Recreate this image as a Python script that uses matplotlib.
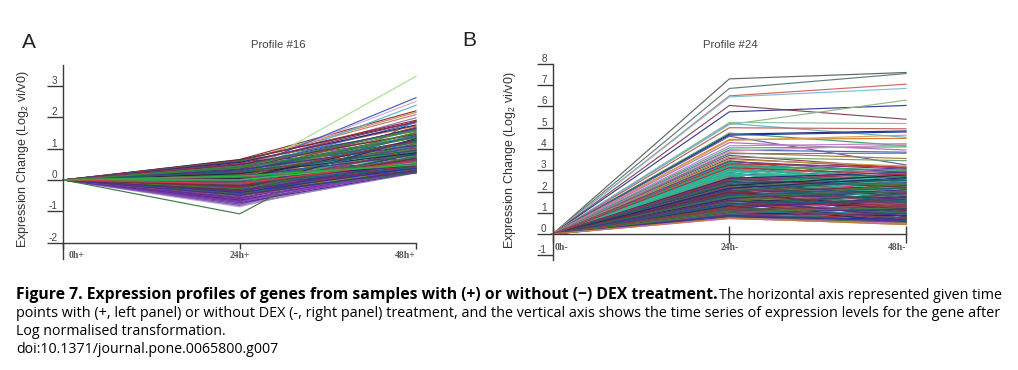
import matplotlib
matplotlib.use('Agg')
import matplotlib.pyplot as plt
from matplotlib.transforms import ScaledTranslation

W, H = 1018, 370

# ---------- data ----------
labels_a = ['0h+', '24h+', '48h+']
labels_b = ['0h-', '24h-', '48h-']
yticks_a = [-2, -1, 0, 1, 2, 3]
yticks_b = [-1, 0, 1, 2, 3, 4, 5, 6, 7, 8]
start_value = 0.0

palette = ['#8a2f3c', '#2f7f5f', '#4a3fa0', '#c8603a', '#3a9ab0', '#7f3f9f', '#5f9f3f', '#2a3f8f',
           '#c04a6a', '#1f8f8f', '#9a7a2f', '#6a2f8a', '#3f6fc0', '#a03030', '#40a860', '#8f5fb0',
           '#b08a4a', '#205070', '#d07090', '#4f8a4f', '#6f6fc0', '#303060', '#20a090', '#905040']
dark_palette = ['#2a2a70', '#7a2a3a', '#2f6f4f', '#5a2a80', '#1f5f7f', '#8f3f3f', '#3f7f3f', '#4a3090',
                '#203040', '#a04a60', '#306090', '#6a3a70', '#507030', '#3030a0', '#903060', '#206060']

# Panel A: bulk lines
a_24 = [0.62, 0.60, 0.58, 0.55, 0.52, 0.50, 0.48, 0.47, 0.45, 0.44, 0.42, 0.40, 0.39, 0.37, 0.36, 0.34,
        0.33, 0.31, 0.30, 0.28, 0.27, 0.25, 0.24, 0.22, 0.21, 0.19, 0.18, 0.16, 0.15, 0.13, 0.12, 0.10,
        0.09, 0.07, 0.06, 0.04, 0.03, 0.01, -0.01, -0.03, -0.05, -0.07, -0.09, -0.11, -0.13, -0.15, -0.17,
        -0.19, -0.21, -0.23, -0.25, -0.27, -0.29, -0.31, -0.33, -0.35, -0.37, -0.39, -0.41, -0.43, -0.45,
        -0.47, -0.49, -0.51]
a_48 = [1.90, 1.55, 0.95, 1.72, 0.55, 1.34, 0.82, 1.62, 0.40, 1.12, 1.48, 0.68, 1.82, 0.32, 1.05, 1.40,
        0.74, 1.25, 0.46, 1.58, 0.90, 0.28, 1.18, 1.68, 0.60, 1.36, 0.36, 0.98, 1.44, 0.52, 0.78, 1.22,
        0.26, 1.08, 1.52, 0.64, 0.42, 1.30, 0.86, 0.24, 1.15, 0.56, 0.34, 1.00, 0.72, 0.30, 1.28, 0.48,
        0.22, 0.92, 0.66, 0.38, 1.10, 0.58, 0.27, 0.84, 0.44, 0.76, 0.31, 0.62, 0.24, 0.50, 0.35, 0.29]
a_more_24 = [0.56, 0.49, 0.41, 0.35, 0.29, 0.23, 0.17, 0.11, 0.05, -0.02, -0.06, -0.10, -0.14, -0.18, -0.22,
             -0.26, -0.30, -0.34, -0.38, -0.42, -0.46, -0.50, 0.43, 0.32, 0.20, 0.08, -0.04, -0.16, -0.28,
             -0.40, 0.52, 0.26, 0.00, -0.20, -0.44, -0.36, -0.12, 0.14, 0.38, -0.48]
a_more_48 = [1.75, 1.45, 1.20, 1.65, 1.38, 1.02, 1.50, 0.80, 1.26, 0.66, 1.42, 0.50, 1.16, 0.36, 0.96, 0.70,
             1.32, 0.44, 0.88, 0.25, 0.60, 0.33, 1.60, 1.10, 0.86, 0.54, 1.06, 0.28, 0.74, 0.38, 1.85,
             0.94, 0.47, 0.68, 0.23, 0.56, 0.40, 1.24, 1.35, 0.30]

# Panel A: lower purple band
a_low_24 = [-0.53, -0.56, -0.58, -0.60, -0.62, -0.64, -0.66, -0.68, -0.70, -0.72, -0.74, -0.76, -0.78, -0.80,
            -0.82, -0.84, -0.86]
a_low_48 = [0.72, 0.30, 0.55, 0.25, 0.88, 0.40, 0.26, 0.64, 0.34, 0.24, 0.80, 0.46, 0.22, 0.58, 0.30, 0.42, 0.50]
low_colors = ['#5a2a90', '#7a2fa0', '#43308f', '#8a3fb0', '#6a2a80', '#4a2a9a', '#7f40a8', '#5f3098',
              '#8f4fb5', '#502f90', '#9a6fc0', '#7030a0', '#a080c8', '#6848a8', '#b090d0', '#c0a8d8', '#c8b8e0']

# Panel A: individually visible lines
a_top_24 = [0.65, 0.60, 0.58, 0.46, 0.35, 0.25, 0.30, 0.16, -1.08, 0.64, 0.00, -0.12, 0.12]
a_top_48 = [2.20, 2.15, 2.08, 1.98, 2.50, 2.38, 2.62, 3.30, 1.90, 1.85, 0.55, 0.60, 0.48]
a_top_colors = ['#8a3a3a', '#c09060', '#d07a60', '#a070c0', '#e0a8cc', '#5cb8d8', '#3f5fc8', '#a6e28f',
                '#3f7a4a', '#402a3a', '#2fbf4a', '#d03a4a', '#28b040']

# Panel B: bulk lines
b_24 = [3.55, 3.45, 3.40, 3.34, 3.28, 3.22, 3.16, 3.10, 3.05, 3.00, 2.95, 2.90, 2.85, 2.80, 2.76, 2.72,
        2.68, 2.64, 2.60, 2.55, 2.50, 2.46, 2.42, 2.38, 2.34, 2.30, 2.26, 2.22, 2.18, 2.14, 2.10, 2.06,
        2.02, 1.98, 1.94, 1.90, 1.86, 1.82, 1.78, 1.74, 1.70, 1.66, 1.62, 1.58, 1.54, 1.50, 1.46, 1.42,
        1.38, 1.34, 1.30, 1.26, 1.22, 1.18, 1.14, 1.10, 1.06, 1.02, 0.98, 0.94, 0.90, 0.86, 0.82, 0.78, 0.74]
b_48 = [3.10, 2.55, 3.05, 1.95, 2.85, 2.30, 3.00, 1.50, 2.62, 2.10, 2.95, 1.72, 2.45, 1.25, 2.75, 2.00,
        1.40, 2.50, 1.85, 2.68, 1.10, 2.25, 1.62, 2.40, 0.95, 2.15, 1.45, 2.58, 1.78, 0.80, 2.05, 1.30,
        2.35, 1.58, 0.70, 1.92, 2.20, 1.15, 1.68, 0.90, 1.42, 1.98, 0.62, 1.52, 1.20, 1.80, 0.75, 1.35,
        1.05, 1.65, 0.58, 1.48, 0.85, 1.28, 0.52, 1.12, 0.68, 1.00, 0.50, 0.88, 0.60, 0.78, 0.48, 0.55, 0.45]
b_more_24 = [2.62, 2.58, 2.52, 2.48, 2.44, 2.40, 2.36, 2.32, 2.28, 2.24, 2.20, 2.16, 2.12, 2.08, 2.04, 2.00,
             1.96, 1.92, 1.88, 1.84, 1.80, 1.76, 1.72, 1.68, 1.64, 1.60, 1.56, 1.52, 1.48, 1.44, 1.40, 1.36,
             1.32, 1.28, 1.24, 1.20, 1.16, 1.12, 1.08, 1.04, 1.00, 0.96, 0.92, 0.88, 0.84, 0.80,
             2.56, 2.34, 2.15, 1.97, 1.77, 1.59, 1.41, 1.21, 1.03, 0.87]
b_more_48 = [2.90, 2.20, 2.70, 1.75, 2.52, 1.35, 2.32, 1.88, 2.78, 1.08, 2.42, 1.60, 2.12, 0.82, 1.96, 2.60,
             1.22, 2.28, 0.98, 1.70, 2.18, 0.72, 1.54, 2.08, 1.18, 1.82, 0.92, 1.46, 2.38, 0.66, 1.38, 1.90,
             0.58, 1.62, 1.02, 1.72, 0.76, 1.32, 0.54, 1.16, 0.86, 1.44, 0.64, 0.96, 0.52, 0.70,
             2.82, 1.48, 2.65, 1.10, 2.00, 0.84, 1.56, 0.74, 1.24, 0.60]

# Panel B: individually visible lines
b_top_24 = [7.30, 6.85, 6.50, 6.45, 6.05, 5.75, 5.15, 5.25, 5.20, 5.00, 4.70, 4.75, 4.65, 4.45, 4.60, 4.40,
            4.30, 4.15, 4.05, 3.95, 3.90, 3.82, 3.78, 3.70, 3.62, 3.50, 3.42, 3.30, 3.22, 3.12, 0.72, 0.76]
b_top_48 = [7.60, 7.55, 7.05, 6.85, 5.40, 6.05, 6.30, 5.20, 4.55, 4.95, 4.85, 4.15, 4.80, 4.50, 3.25, 4.65,
            3.95, 4.25, 4.10, 3.85, 4.20, 3.55, 3.80, 3.10, 3.45, 3.20, 2.90, 3.15, 3.00, 2.80, 0.50, 0.44]
b_top_colors = ['#5a6a5a', '#5f7f78', '#d06a60', '#80c0d8', '#8a4a58', '#3a3f8f', '#90b888', '#90c0a0',
                '#70b0d0', '#c06060', '#2a2a6a', '#40a070', '#2040a0', '#d08030', '#6a5a9a', '#e0a050',
                '#b070c0', '#c080d0', '#40b060', '#5060b0', '#d090c0', '#a08040', '#6080c0', '#904060',
                '#70a070', '#c0a040', '#7040a0', '#c03030', '#2f9f7f', '#b03040', '#d070a8', '#c08040']
# Panel B: turquoise streak
b_teal_24 = [3.36, 3.30, 3.24, 3.18, 3.12, 3.06, 3.00, 2.94, 2.88, 2.82, 2.76]
b_teal_48 = [2.45, 2.20, 2.60, 1.90, 2.35, 1.70, 2.10, 2.50, 1.80, 2.25, 1.60]

caption_bold = "Figure 7. Expression profiles of genes from samples with (+) or without (\u2212) DEX treatment."
caption_tail = "The horizontal axis represented given time"
caption_l2 = ("points with (+, left panel) or without DEX (-, right panel) treatment, and the vertical axis "
              "shows the time series of expression levels for the gene after")
caption_l3 = "Log normalised transformation."
caption_l4 = "doi:10.1371/journal.pone.0065800.g007"

# ---------- drawing ----------
plt.rcParams['font.family'] = ['Liberation Sans', 'DejaVu Sans']
plt.rcParams['mathtext.default'] = 'regular'
fig = plt.figure(figsize=(W / 100, H / 100), dpi=100, facecolor='white')
PT = 0.72
GREY = '#3a3a3a'


def panel(px0, px2, pytop, pybot, ylim, axis_y, yticks, xlabels, tick_dir, tick_len, lab_pad, shift0):
    ax = fig.add_axes([px0 / W, 1 - pybot / H, (px2 - px0) / W, (pybot - pytop) / H])
    ax.set_xlim(0, 2)
    ax.set_ylim(*ylim)
    ax.patch.set_alpha(0)
    for s in ('top', 'right'):
        ax.spines[s].set_visible(False)
    ax.spines['bottom'].set_position(('data', axis_y))
    for s in ('left', 'bottom'):
        ax.spines[s].set_color(GREY)
        ax.spines[s].set_linewidth(1.0)
    ax.set_yticks(yticks)
    ax.set_yticklabels([str(v) for v in yticks], family='Liberation Sans', fontsize=7.2, color='#444444', va='bottom')
    ax.tick_params(axis='y', length=16 * PT, width=1.0, color=GREY, pad=-10 * PT)
    ax.set_xticks([0, 1, 2])
    ax.set_xticklabels(xlabels, family='Liberation Serif', fontsize=7.0, fontweight='bold', color='#555555')
    ax.tick_params(axis='x', length=tick_len * PT, width=1.0, color=GREY, direction=tick_dir, pad=lab_pad * PT)
    tl = ax.get_xticklabels()
    tl[0].set_ha('left')
    tl[0].set_transform(tl[0].get_transform() + ScaledTranslation(shift0 / 100, 0, fig.dpi_scale_trans))
    tl[2].set_ha('right')
    return ax


def draw(ax, v24, v48, colors, lw=0.85):
    for i, (p, q) in enumerate(zip(v24, v48)):
        ax.plot([0, 1, 2], [start_value, p, q], color=colors[i % len(colors)], lw=lw,
                solid_joinstyle='miter', clip_on=False, zorder=2)


ax_a = panel(63.3, 416, 65, 259.4, (-2.53, 3.66), -2, yticks_a, labels_a, 'out', 6, 2, 5.5)
draw(ax_a, a_low_24[::-1], a_low_48[::-1], low_colors[::-1])
draw(ax_a, a_top_24[:10], a_top_48[:10], a_top_colors[:10])
draw(ax_a, a_24, a_48, palette)
draw(ax_a, a_more_24, a_more_48, dark_palette)
draw(ax_a, a_top_24[10:], a_top_48[10:], a_top_colors[10:], lw=1.1)

ax_b = panel(552.7, 906, 64, 259.5, (-1.2, 8), 0, yticks_b, labels_b, 'inout', 17, 0, 2)
draw(ax_b, b_24, b_48, palette)
draw(ax_b, b_teal_24, b_teal_48, ['#2fb08f', '#30c0a0'], lw=1.0)
draw(ax_b, b_more_24, b_more_48, dark_palette)
draw(ax_b, b_top_24, b_top_48, b_top_colors)

fig.text(278 / W, 1 - 45 / H, 'Profile #16', fontsize=8.2, color='#444444', ha='center', va='center')
fig.text(730 / W, 1 - 45 / H, 'Profile #24', fontsize=8.2, color='#444444', ha='center', va='center')
fig.text(29 / W, 1 - 42 / H, 'A', fontsize=15, color='#222222', ha='center', va='center')
fig.text(469 / W, 1 - 41 / H, 'B', fontsize=15, color='#222222', ha='center', va='center')
ylab = 'Expression Change (Log$_2$ vi/v0)'
fig.text(23.5 / W, 1 - 159 / H, ylab, fontsize=9.0, color='#333333', rotation=90, ha='center', va='center')
fig.text(510 / W, 1 - 160 / H, ylab, fontsize=9.0, color='#333333', rotation=90, ha='center', va='center')

renderer = fig.canvas.get_renderer()


def cap(s, x0, base, weight='normal', x1=None, size=9.0):
    t = fig.text(x0 / W, 1 - base / H, s, fontsize=size, fontweight=weight, color='black',
                 family='Open Sans', ha='left', va='baseline')
    if x1 is not None:
        size = size * (x1 - x0) / t.get_window_extent(renderer).width
        t.set_fontsize(size)
    return size


cap(caption_bold, 16, 299, 'bold', x1=713)
cap(caption_tail, 719, 299, x1=1004)
cap(caption_l2, 16, 317, x1=1004)
body = cap(caption_l4, 16, 353, x1=278)
cap(caption_l3, 16, 335, size=body)

fig.savefig('out.png', dpi=100, facecolor='white')
